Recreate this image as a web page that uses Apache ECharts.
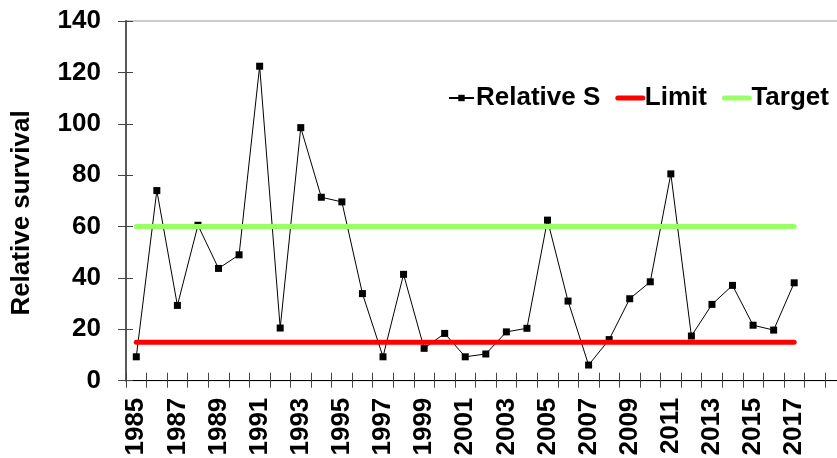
<!DOCTYPE html>
<html>
<head>
<meta charset="utf-8">
<script src="https://cdn.jsdelivr.net/npm/echarts@6/dist/echarts.min.js"></script>
<style>
html,body{margin:0;padding:0;background:#fff;}
#chart{width:837px;height:458px;}
</style>
</head>
<body>
<div id="chart"></div>
<script>
// Category axis (years); the axis continues two years beyond the data
const years = ['1985','1986','1987','1988','1989','1990','1991','1992','1993','1994','1995','1996','1997','1998','1999','2000','2001','2002','2003','2004','2005','2006','2007','2008','2009','2010','2011','2012','2013','2014','2015','2016','2017','2018','2019'];
const lastLabelledYear = '2017';
// Relative survival values 1985..2017
const relativeS = [9.3,74,29.3,60.5,43.7,49,122.4,20.5,98.5,71.4,69.6,33.9,9.3,41.4,12.6,18.4,9.3,10.4,19,20.4,62.5,31,6.1,16,31.9,38.5,80.5,17.4,29.7,37.1,21.6,19.7,38.1];
const limitValue = 15;
const targetValue = 60;
const yTicks = {min: 0, max: 140, step: 20};
const seriesNames = ['Relative S', 'Limit', 'Target'];
const axisTitle = 'Relative survival';

const limitData = relativeS.map(() => limitValue);
const targetData = relativeS.map(() => targetValue);

const FONT = '"Liberation Sans", Arial, sans-serif';
const chart = echarts.init(document.getElementById('chart'), null, {renderer: 'canvas'});
const lastIdx = years.indexOf(lastLabelledYear);

chart.setOption({
  animation: false,
  backgroundColor: '#fff',
  grid: {left: 126, top: 21, right: -8.6, bottom: 77.3, show: true, borderColor: '#999', borderWidth: 1, containLabel: false, outerBoundsMode: 'none'},
  legend: {
    data: [
      {name: seriesNames[0]},
      {name: seriesNames[1], itemStyle: {opacity: 0}, lineStyle: {width: 5, cap: 'round', color: '#ff0000'}},
      {name: seriesNames[2], itemStyle: {opacity: 0}, lineStyle: {width: 5, cap: 'round', color: '#99ff66'}}
    ],
    left: 443, top: 80,
    itemWidth: 25, itemHeight: 8, itemGap: 15,
    textStyle: {fontFamily: FONT, fontWeight: 'bold', fontSize: 26, color: '#000', padding: [0, 0, 0, -3]}
  },
  xAxis: [{
    type: 'category', data: years, boundaryGap: true,
    axisLine: {show: true, lineStyle: {color: '#000', width: 1}},
    axisTick: {show: true, inside: false, length: 7, lineStyle: {color: '#444'}, interval: 0},
    axisLabel: {
      interval: (i) => i % 2 === 0 && i <= lastIdx,
      rotate: 90, margin: 17,
      fontFamily: FONT, fontWeight: 'bold', fontSize: 26, color: '#000'
    },
    splitLine: {show: false}
  }, {
    type: 'category', data: years, boundaryGap: true, position: 'bottom',
    axisLine: {show: false},
    axisTick: {show: true, inside: true, length: 8, lineStyle: {color: '#444'}, interval: 0},
    axisLabel: {show: false},
    splitLine: {show: false}
  }],
  yAxis: [{
    type: 'value', min: yTicks.min, max: yTicks.max, interval: yTicks.step,
    axisLine: {show: true, lineStyle: {color: '#5a5a5a', width: 2}},
    axisTick: {show: true, inside: false, length: 8, lineStyle: {color: '#444'}},
    axisLabel: {margin: 25, fontFamily: FONT, fontWeight: 'bold', fontSize: 26, color: '#000'},
    splitLine: {show: false}
  }, {
    type: 'value', min: yTicks.min, max: yTicks.max, interval: yTicks.step, position: 'left',
    axisLine: {show: false},
    axisTick: {show: true, inside: true, length: 7, lineStyle: {color: '#444'}},
    axisLabel: {show: false},
    splitLine: {show: false}
  }],
  graphic: [{
    type: 'text', x: 22, y: 213, rotation: Math.PI / 2,
    style: {text: axisTitle, fontFamily: FONT, fontWeight: 'bold', fontSize: 26, fill: '#000', align: 'center', verticalAlign: 'middle'}
  }],
  series: [{
    name: seriesNames[0], type: 'line', data: relativeS, z: 2,
    symbol: 'rect', symbolSize: 7, showSymbol: true,
    lineStyle: {color: '#000', width: 1}, itemStyle: {color: '#000'}
  }, {
    name: seriesNames[1], type: 'line', data: limitData, symbol: 'none', z: 3,
    lineStyle: {color: '#ff0000', width: 5, cap: 'round'}, itemStyle: {color: '#ff0000'}
  }, {
    name: seriesNames[2], type: 'line', data: targetData, symbol: 'none', z: 3,
    lineStyle: {color: '#99ff66', width: 5, cap: 'round'}, itemStyle: {color: '#99ff66'}
  }]
});
</script>
</body>
</html>
